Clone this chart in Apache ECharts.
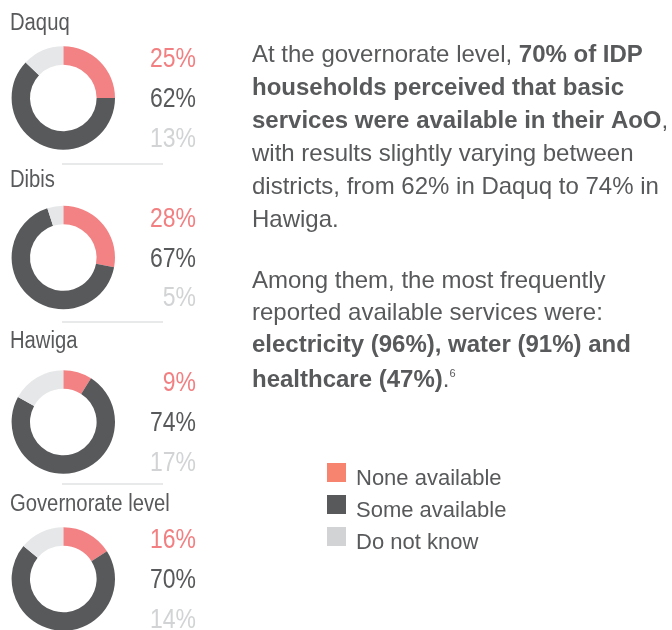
<!DOCTYPE html>
<html>
<head>
<meta charset="utf-8">
<script src="https://cdn.jsdelivr.net/npm/echarts@6/dist/echarts.min.js"></script>
<style>
  html, body { margin: 0; padding: 0; background: #ffffff; }
  #chart { width: 672px; height: 630px; }
</style>
</head>
<body>
<div id="chart"></div>
<script>
// Perceived availability of basic services, share of IDP households (%)
const districts = ['Daquq', 'Dibis', 'Hawiga', 'Governorate level'];
const categories = ['None available', 'Some available', 'Do not know'];
const noneAvailable = [25, 28, 9, 16];
const someAvailable = [62, 67, 74, 70];
const doNotKnow = [13, 5, 17, 14];

const FONT = '"Liberation Sans", Arial, sans-serif';
const textColor = '#58595B';
const sliceColors = ['#F38284', '#58595B', '#E6E7E8'];
const labelColors = ['#F27F81', '#58595B', '#D1D3D4'];
const legendColors = ['#F7846F', '#58595B', '#D1D3D4'];

const chart = echarts.init(document.getElementById('chart'), null, { renderer: 'canvas' });

// panel geometry: donut centre, title line and separator below each panel
const donutY = [98, 257.5, 422, 579];
const titleY = [23.5, 181, 341.5, 505];
const sepY = [164, 322, 484];
const labelOffsets = [-38.5, 1.5, 41];
const cx = 63.3;

const series = districts.map((name, i) => ({
  type: 'pie',
  name: name,
  center: [cx, donutY[i]],
  radius: [33.3, 51.7],
  startAngle: 90,
  clockwise: true,
  silent: true,
  label: { show: false },
  labelLine: { show: false },
  itemStyle: { borderWidth: 0 },
  color: i === 3 ? ['#F38284', '#58595B', '#EDEDED'] : sliceColors,
  data: [
    { name: categories[0], value: noneAvailable[i] },
    { name: categories[1], value: someAvailable[i] },
    { name: categories[2], value: doNotKnow[i] }
  ]
}));

const graphics = [];
districts.forEach((name, i) => {
  graphics.push({
    type: 'text', x: 10, y: titleY[i], scaleX: 0.88,
    style: { text: name, font: '23px ' + FONT, fill: textColor, verticalAlign: 'middle' }
  });
  const vals = [noneAvailable[i], someAvailable[i], doNotKnow[i]];
  vals.forEach((v, k) => {
    graphics.push({
      type: 'text', x: 196, y: donutY[i] + labelOffsets[k], scaleX: 0.82,
      style: {
        text: v + '%', font: '28px ' + FONT, fill: labelColors[k],
        align: 'right', verticalAlign: 'middle'
      }
    });
  });
  if (i < 3) {
    graphics.push({
      type: 'line', silent: true,
      shape: { x1: 62, y1: sepY[i], x2: 163, y2: sepY[i] },
      style: { stroke: '#D1D3D4', lineWidth: 1 }
    });
  }
});

// commentary paragraphs
const PS = 24;
const richStyles = {
  n: { font: PS + 'px ' + FONT, fill: textColor },
  b: { font: 'bold ' + PS + 'px ' + FONT, fill: textColor },
  s: { font: '11px ' + FONT, fill: textColor, verticalAlign: 'top', padding: [0, 0, 12, 0] }
};
const lines = [
  ['{n|At the governorate level, }{b|70% of IDP}', 67],
  ['{b|households perceived that basic}', 100],
  ['{b|services were available in their AoO}{n|,}', 133],
  ['{n|with results slightly varying between}', 166],
  ['{n|districts, from 62% in Daquq to 74% in}', 199],
  ['{n|Hawiga.}', 232],
  ['{n|Among them, the most frequently}', 293],
  ['{n|reported available services were:}', 325],
  ['{b|electricity (96%), water (91%) and}', 357],
  ['{b|healthcare (47%)}{n|.}{s|6}', 392]
];
lines.forEach(([t, y]) => {
  graphics.push({
    type: 'text', x: 252, y: y,
    style: { text: t, rich: richStyles, verticalAlign: 'bottom', font: PS + 'px ' + FONT }
  });
});

chart.setOption({
  animation: false,
  backgroundColor: '#ffffff',
  legend: {
    orient: 'vertical',
    left: 327, top: 455.5,
    icon: 'rect',
    itemWidth: 19, itemHeight: 19,
    itemGap: -2,
    padding: 0,
    selectedMode: false,
    data: categories.map((c, k) => ({ name: c, itemStyle: { color: legendColors[k] } })),
    formatter: '{t|{name}}',
    textStyle: {
      fontFamily: FONT, fontSize: 22, color: textColor,
      rich: {
        t: {
          fontFamily: FONT, fontSize: 22, color: textColor,
          lineHeight: 22, padding: [12, 0, 0, 5]
        }
      }
    },
    itemStyle: { borderWidth: 0 }
  },
  color: sliceColors,
  series: series,
  graphic: graphics
});
</script>
</body>
</html>
